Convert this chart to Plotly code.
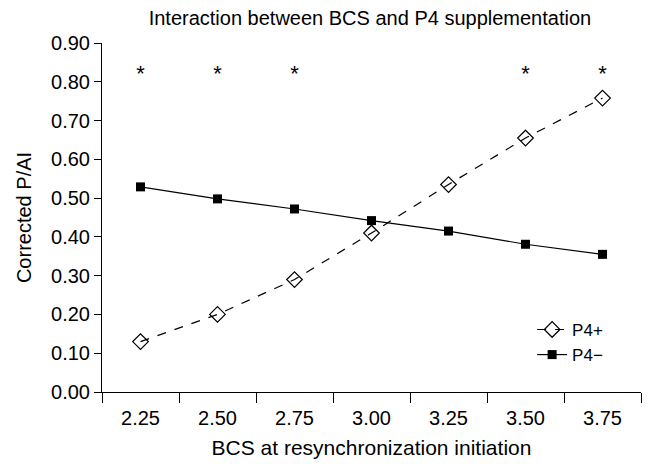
import plotly.graph_objects as go

categories = ["2.25", "2.50", "2.75", "3.00", "3.25", "3.50", "3.75"]
p4_plus = [0.13, 0.20, 0.29, 0.41, 0.535, 0.655, 0.758]
p4_minus = [0.529, 0.498, 0.472, 0.442, 0.415, 0.381, 0.355]
star_categories = ["2.25", "2.50", "2.75", "3.50", "3.75"]
star_level = [0.815, 0.815, 0.815, 0.815, 0.815]
y_ticks = [0.0, 0.1, 0.2, 0.3, 0.4, 0.5, 0.6, 0.7, 0.8, 0.9]

font = "Liberation Sans, Arial, sans-serif"

fig = go.Figure()
fig.add_trace(go.Scatter(
    x=categories, y=p4_plus, name="P4+", mode="lines+markers",
    line=dict(color="black", width=1.2, dash="dash"),
    marker=dict(symbol="diamond-open", size=12, color="black", line=dict(width=1.2)),
))
fig.add_trace(go.Scatter(
    x=categories, y=p4_minus, name="P4\u2212", mode="lines+markers",
    line=dict(color="black", width=1.2),
    marker=dict(symbol="square", size=9, color="black"),
))
fig.add_trace(go.Scatter(
    x=star_categories, y=star_level, mode="text", text=["*"] * len(star_categories),
    textfont=dict(size=22, color="black", family=font), showlegend=False, hoverinfo="skip",
))

fig.update_layout(
    width=644, height=456,
    margin=dict(l=94, r=11, t=35, b=72, autoexpand=False),
    paper_bgcolor="white", plot_bgcolor="white",
    font=dict(family=font, size=20, color="black"),
    title=dict(text="Interaction between BCS and P4 supplementation", x=0.562, xanchor="center",
               y=1, yanchor="top", pad=dict(t=3, b=0),
               font=dict(size=20, family=font, color="black")),
    showlegend=True,
    legend=dict(x=0.798, y=0.142, xanchor="left", yanchor="middle", bgcolor="rgba(0,0,0,0)",
                font=dict(size=17), tracegroupgap=0),
)
fig.update_xaxes(
    type="category", categoryorder="array", categoryarray=categories,
    range=[-0.5, 6.5], tickson="boundaries", ticks="outside", ticklen=10, tickcolor="black",
    showline=True, linecolor="black", linewidth=1, showgrid=False, zeroline=False,
    ticklabelstandoff=8, automargin=False,
    title=dict(text="BCS at resynchronization initiation", font=dict(size=21), standoff=12),
    tickfont=dict(size=20),
)
fig.update_yaxes(
    range=[0, 0.9], tickvals=y_ticks, tickformat=".2f", ticks="outside", ticklen=7,
    tickcolor="black", showline=True, linecolor="black", linewidth=1, showgrid=False,
    zeroline=False, automargin=False,
    title=dict(text="Corrected P/AI", font=dict(size=20), standoff=14),
    tickfont=dict(size=20),
)

fig.write_html("out.html")
